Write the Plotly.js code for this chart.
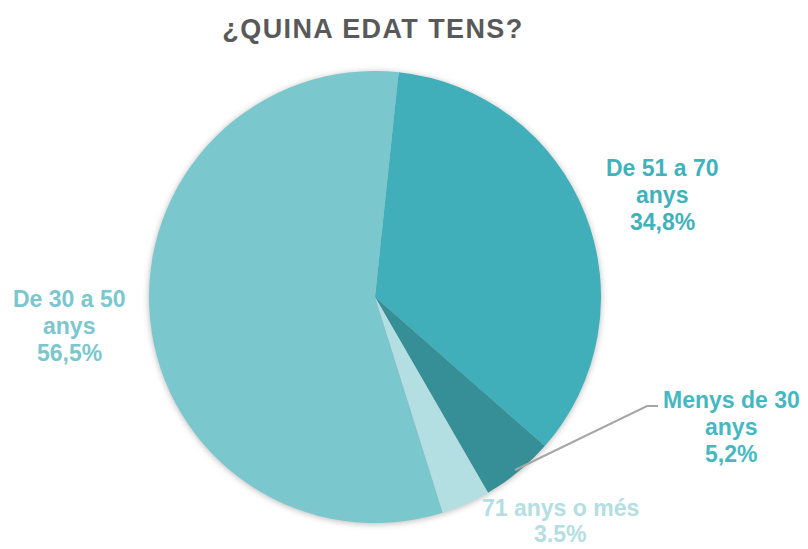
<!DOCTYPE html>
<html>
<head>
<meta charset="utf-8">
<script src="https://cdn.plot.ly/plotly-3.0.1.min.js"></script>
<style>
html,body{margin:0;padding:0;background:#fff}
#chart{width:808px;height:549px}
.gtitle{letter-spacing:1.4px}
.pielayer{filter:drop-shadow(0px 1px 3px rgba(0,0,0,0.28))}
</style>
</head>
<body>
<div id="chart"></div>
<script>
const categories = ["De 51 a 70 anys", "Menys de 30 anys", "71 anys o més", "De 30 a 50 anys"];
const values = [34.8, 5.2, 3.5, 56.5];
const labelLines = [["De 51 a 70", "anys"], ["Menys de 30", "anys"], ["71 anys o més"], ["De 30 a 50", "anys"]];
const pctLabels = ["34,8%", "5,2%", "3.5%", "56,5%"];
const sliceColors = ["#41AFB9", "#368F97", "#B3DEE2", "#7AC7CE"];
const textColors = ["#41B1BB", "#45B8C2", "#B3DEE2", "#7AC7CE"];

const W = 808, H = 549;
const cx = 375, cy = 297, r = 226;
// x centre, y of first line (cap middle) and line gap of each label block
const labelPos = [[662, 168, 27], [731, 400, 27], [560, 508, 26], [69, 299, 27]];

const trace = {
  type: "pie",
  labels: categories,
  values: values,
  sort: false,
  direction: "clockwise",
  rotation: 6,
  marker: { colors: sliceColors, line: { width: 0 } },
  textinfo: "none",
  hoverinfo: "label+percent",
  showlegend: false,
  domain: { x: [(cx - r) / W, (cx + r) / W], y: [(H - cy - r) / H, (H - cy + r) / H] }
};

const annotations = [];
categories.forEach((c, i) => {
  const lines = labelLines[i].concat([pctLabels[i]]);
  lines.forEach((t, j) => {
    annotations.push({
      xref: "paper", yref: "paper",
      x: labelPos[i][0] / W, y: 1 - (labelPos[i][1] + j * labelPos[i][2]) / H,
      xanchor: "center", yanchor: "middle",
      showarrow: false, borderpad: 0, borderwidth: 0,
      text: "<b>" + t + "</b>",
      font: { family: "Liberation Sans, Arial, sans-serif", size: 23, color: textColors[i] }
    });
  });
});

const layout = {
  width: W, height: H,
  margin: { l: 0, r: 0, t: 0, b: 0 },
  paper_bgcolor: "#ffffff",
  title: {
    text: "<b>¿QUINA EDAT TENS?</b>",
    font: { family: "Liberation Sans, Arial, sans-serif", size: 27, color: "#595959" },
    x: 373 / W, xanchor: "center",
    y: 1 - 29 / H, yanchor: "middle"
  },
  annotations: annotations,
  shapes: [{
    type: "path", xref: "paper", yref: "paper",
    path: `M ${515 / W} ${1 - 470 / H} L ${647 / W} ${1 - 406 / H} L ${658 / W} ${1 - 406 / H}`,
    line: { color: "#A6A6A6", width: 2 }
  }]
};

Plotly.newPlot("chart", [trace], layout, { displayModeBar: false, staticPlot: true });
</script>
</body>
</html>
